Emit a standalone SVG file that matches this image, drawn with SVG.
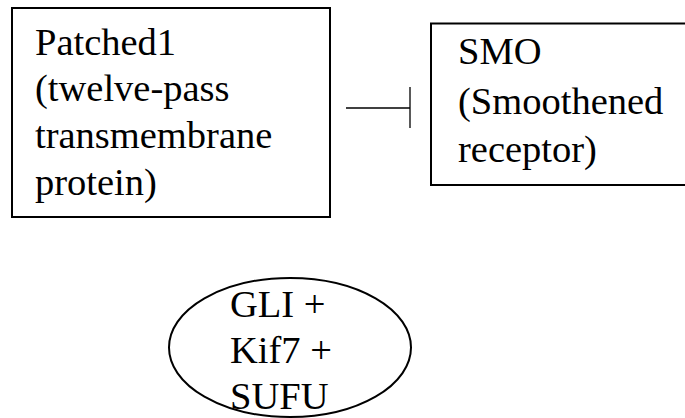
<svg xmlns="http://www.w3.org/2000/svg" width="685" height="418" viewBox="0 0 685 418">
  <style>
    .box { fill: #ffffff; stroke: #000000; stroke-width: 2; }
    .link { stroke: #000000; stroke-width: 1.3; fill: none; }
  </style>
  <rect width="685" height="418" fill="#ffffff"/>

  <g font-family="Liberation Serif, serif" font-size="38.5" fill="#000000">
    <g id="patched1">
      <rect class="box" x="12" y="8" width="318" height="209"/>
      <text x="35" y="55">Patched1</text>
      <text x="35" y="101">(twelve-pass</text>
      <text x="35" y="148">transmembrane</text>
      <text x="35" y="195">protein)</text>
    </g>

    <g id="smo">
      <!-- box runs past the right edge of the canvas -->
      <rect class="box" x="431" y="23.5" width="270" height="161.5"/>
      <text x="458" y="64">SMO</text>
      <text x="458" y="114">(Smoothened</text>
      <text x="458" y="162">receptor)</text>
    </g>

    <g id="gli-complex">
      <ellipse class="box" cx="290" cy="347.5" rx="121" ry="69.5"/>
      <text x="230" y="317">GLI +</text>
      <text x="230" y="363">Kif7 +</text>
      <text x="230" y="409">SUFU</text>
    </g>
  </g>

  <g id="connectors">
    <!-- Patched1 inhibits SMO: line ending in a flat bar -->
    <line class="link" x1="346" y1="108" x2="410" y2="108"/>
    <line class="link" x1="410" y1="87" x2="410" y2="128"/>
  </g>
</svg>
